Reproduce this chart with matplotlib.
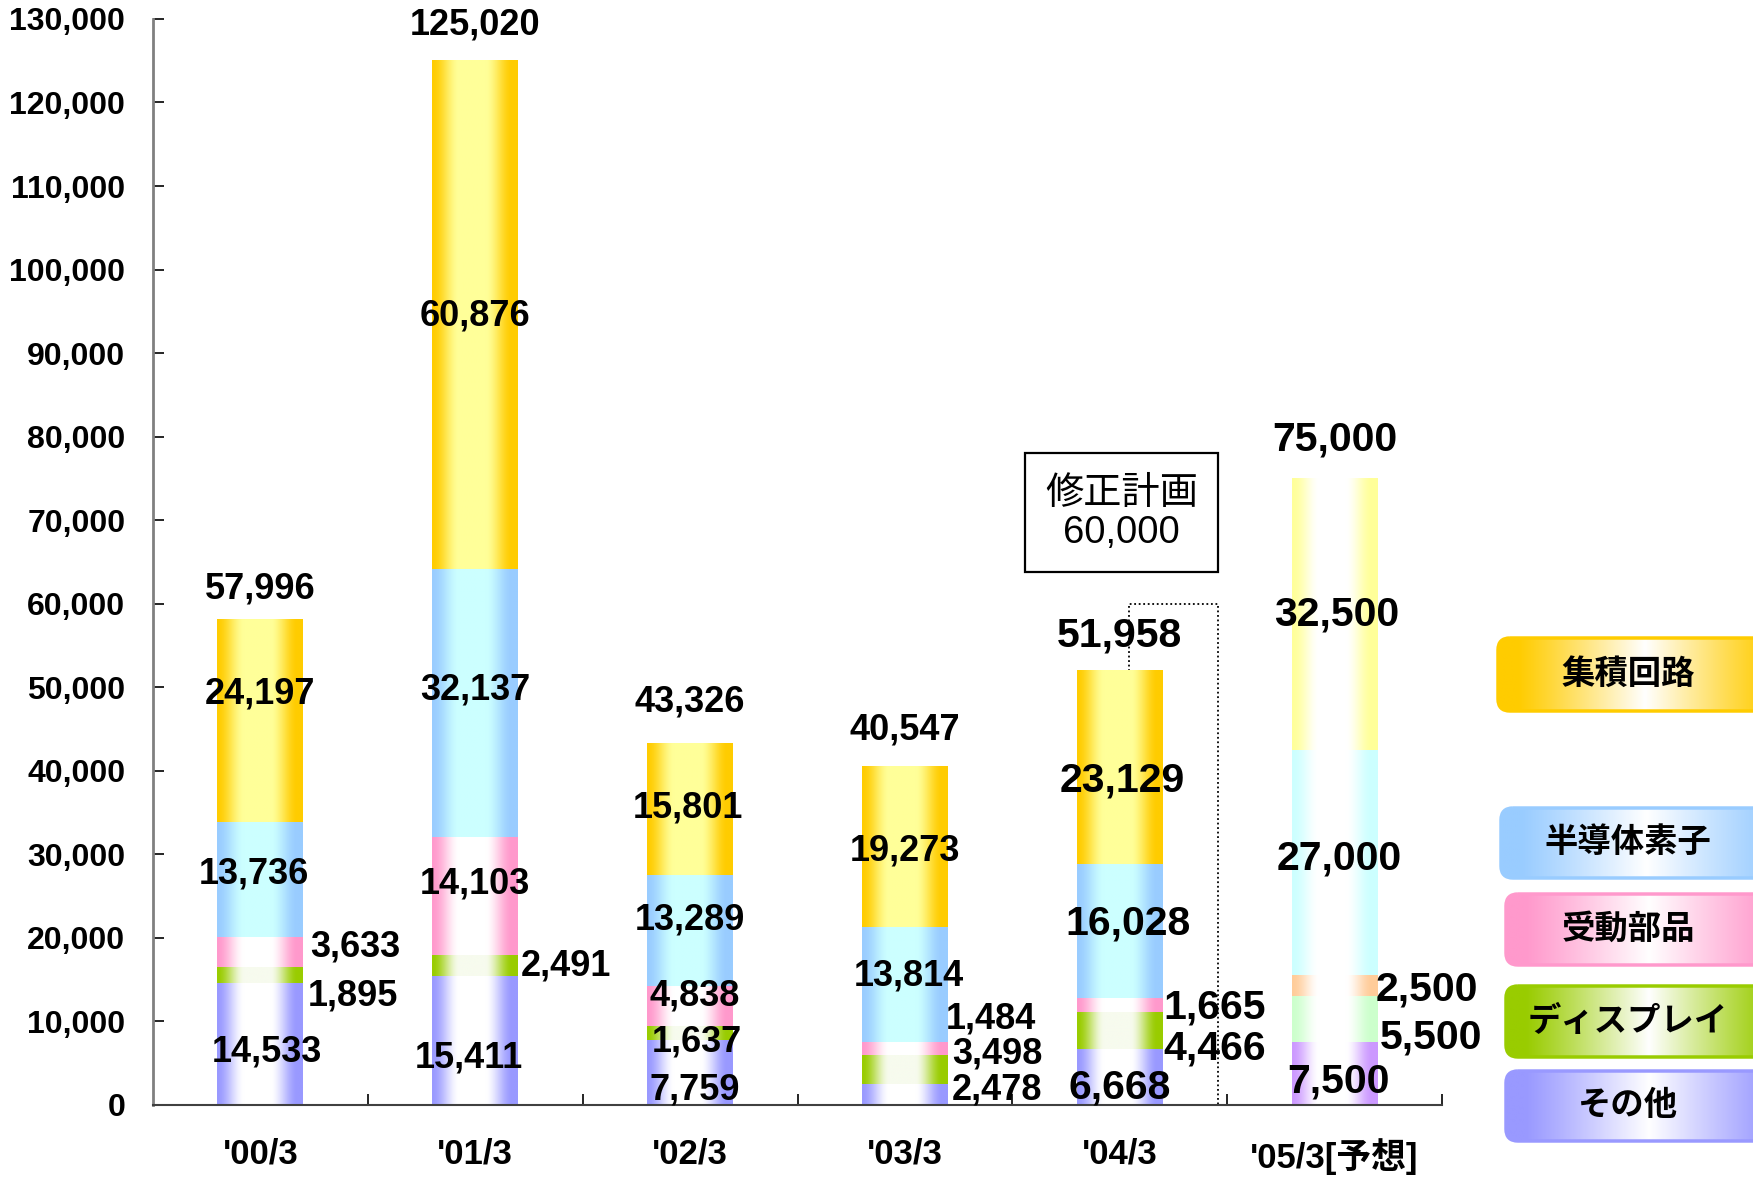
import numpy as np
import matplotlib
matplotlib.use("Agg")
import matplotlib.pyplot as plt
from matplotlib.patches import FancyBboxPatch, Rectangle
from matplotlib.colors import to_rgb
from matplotlib.ticker import FuncFormatter

# データ
categories = ["'00/3", "'01/3", "'02/3", "'03/3", "'04/3", "'05/3[予想]"]
series = ["その他", "ディスプレイ", "受動部品", "半導体素子", "集積回路"]
other = [14533, 15411, 7759, 2478, 6668, 7500]
display = [1895, 2491, 1637, 3498, 4466, 5500]
passive = [3633, 14103, 4838, 1484, 1665, 2500]
semi = [13736, 32137, 13289, 13814, 16028, 27000]
ic = [24197, 60876, 15801, 19273, 23129, 32500]
totals = [57996, 125020, 43326, 40547, 51958, 75000]
plan_label = "修正計画\n60,000"
plan_value = 60000

values = [other, display, passive, semi, ic]

# 色 (端の色, 中央の色)
colors = [("#9999ff", "#ffffff"), ("#99cc00", "#f7fbee"), ("#ff99cc", "#ffffff"),
          ("#99ccff", "#ccffff"), ("#ffcc00", "#ffff99")]
colors_forecast = [("#cc99ff", "#ffffff"), ("#ccffcc", "#ffffff"), ("#ffcc99", "#ffffff"),
                   ("#ccffff", "#ffffff"), ("#ffff99", "#ffffff")]

# ラベル位置 (x方向のずれ, y)
label_pos = [
    [(0.03, 6290), (0.43, 12985), (0.44, 18876), (-0.03, 27570), (0.0, 49130)],
    [(-0.03, 5622), (0.42, 16600), (0.0, 26372), (0.0, 49665), (0.0, 94378)],
    [(0.02, 1740), (0.03, 7497), (0.02, 12985), (0.0, 22088), (-0.01, 35475)],
    [(0.43, 1740), (0.43, 6024), (0.40, 10308), (0.02, 15395), (0.0, 30388)],
    [(0.0, 2008), (0.44, 6693), (0.44, 11647), (0.04, 21687), (0.01, 38822)],
    [(0.02, 2811), (0.45, 8032), (0.43, 13788), (0.02, 29451), (0.01, 58635)],
]
total_pos = [61713, 129317, 48193, 44846, 56225, 79652]

FONT = ["Liberation Sans", "Noto Sans CJK JP"]


def gradient(edge, center, n=256):
    t = np.linspace(0, 1, n)
    d = np.abs(t - 0.47)
    s = np.clip((0.47 - d) / 0.32, 0, 1)
    s = s * s * (3 - 2 * s)
    e = np.array(to_rgb(edge))
    c = np.array(to_rgb(center))
    return (e + (c - e) * s[:, None]).reshape(1, n, 3)


fig = plt.figure(figsize=(17.53, 11.79), dpi=100)
ax = fig.add_axes([0.0873, 0.0631, 0.7353, 0.9208])

x = np.arange(len(categories))
bottoms = np.zeros(len(categories))
for j, vals in enumerate(values):
    bars = ax.bar(x, vals, 0.4, bottom=bottoms, color="none", linewidth=0)
    for i, p in enumerate(bars.patches):
        edge, center = colors_forecast[j] if i == 5 else colors[j]
        ax.imshow(gradient(edge, center),
                  extent=(p.get_x(), p.get_x() + p.get_width(), p.get_y(), p.get_y() + p.get_height()),
                  aspect="auto", interpolation="bilinear", zorder=1)
    bottoms += np.array(vals)

# 数値ラベル
for i in range(len(categories)):
    size = 29.5 if i >= 4 else 26
    for j, vals in enumerate(values):
        dx, y = label_pos[i][j]
        ax.text(x[i] + dx, y, f"{vals[i]:,}", ha="center", va="center", fontsize=size,
                fontweight="bold", family=FONT, zorder=3)
    ax.text(x[i], total_pos[i], f"{totals[i]:,}", ha="center", va="center", fontsize=size,
            fontweight="bold", family=FONT, zorder=3)

# 修正計画
ax.plot([4.042, 4.042, 4.458, 4.458], [totals[4], plan_value, plan_value, 0],
        linestyle=(0, (1, 1.5)), color="black", linewidth=1.3, zorder=0.5)
ax.add_patch(Rectangle((3.558, 63722), 0.9, 14324, facecolor="white", edgecolor="black",
                       linewidth=1.6, zorder=2))
ax.text(4.008, 70800, plan_label, ha="center", va="center", fontsize=27.5, family=FONT,
        linespacing=1.1, zorder=3)

ax.set_xlim(-0.5, 5.5)
ax.set_ylim(0, 130000)
ax.set_yticks(range(0, 130001, 10000))
ax.yaxis.set_major_formatter(FuncFormatter(lambda v, p: f"{int(v):,}"))
ax.set_xticks(x)
ax.set_xticklabels(categories)
ax.set_xticks(np.arange(0.5, 6, 1), minor=True)
ax.tick_params(axis="y", direction="in", length=8, width=1.2, pad=20, labelsize=23)
ax.tick_params(axis="x", which="major", length=0, pad=24, labelsize=25)
ax.tick_params(axis="x", which="minor", direction="in", length=8, width=1.2)
for lab in ax.get_yticklabels() + ax.get_xticklabels():
    lab.set_fontweight("bold")
    lab.set_family(FONT)
for side in ["top", "right"]:
    ax.spines[side].set_visible(False)
ax.spines["left"].set_color("#808080")
ax.spines["left"].set_linewidth(2)
ax.spines["bottom"].set_color("#404040")
ax.spines["bottom"].set_linewidth(1.5)

# 凡例 (右側の箱)
ax2 = fig.add_axes([0, 0, 1, 1])
leg_boxes = [(1498, 638, 73), (1501, 808, 70), (1506, 894, 71), (1506, 986, 71), (1506, 1071, 70)]
for k, (lx, ly, lh) in enumerate(leg_boxes):
    j = len(series) - 1 - k
    edge = colors[j][0]
    box = FancyBboxPatch((lx, ly), 1780 - lx, lh, boxstyle="round,pad=0,rounding_size=12",
                         facecolor="none", edgecolor=edge, linewidth=2.5, zorder=3)
    ax2.add_patch(box)
    t = np.linspace(0, 1, 256)
    s = np.clip(1 - np.abs(t - 0.52) / 0.45, 0, 1) ** 1.1
    e = np.array(to_rgb(edge))
    g = (e + (1 - e) * s[:, None]).reshape(1, 256, 3)
    im = ax2.imshow(g, extent=(lx, 1780, ly + lh, ly), aspect="auto", interpolation="bilinear", zorder=2)
    im.set_clip_path(box)
    ax2.text(1628, ly + lh / 2, series[j], ha="center", va="center", fontsize=24,
             fontweight="bold", family=FONT, zorder=4)
ax2.set_xlim(0, 1753)
ax2.set_ylim(1179, 0)
ax2.axis("off")

fig.savefig("out.png", dpi=100)
